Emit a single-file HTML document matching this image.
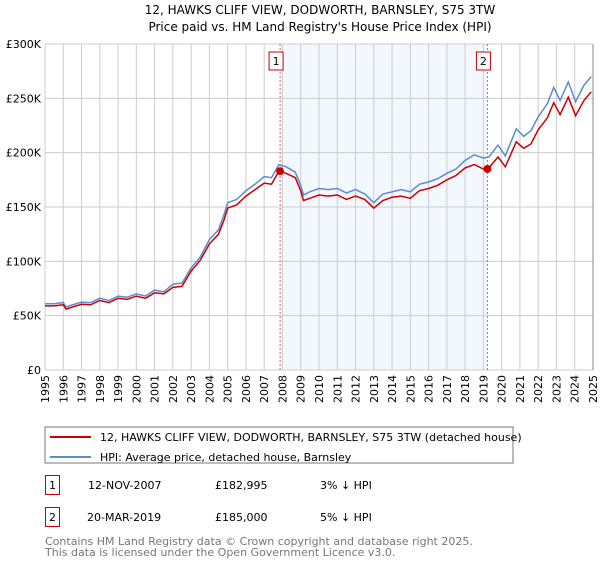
<!DOCTYPE html>
<html><head><meta charset="utf-8"><style>
body{margin:0;background:#fff;font-family:"DejaVu Sans","Liberation Sans",sans-serif;}
svg text{font-family:"DejaVu Sans","Liberation Sans",sans-serif;}
</style></head><body>
<svg width="600" height="560" viewBox="0 0 600 560">
<text x="320" y="14" text-anchor="middle" font-size="12">12, HAWKS CLIFF VIEW, DODWORTH, BARNSLEY, S75 3TW</text>
<text x="320" y="31" text-anchor="middle" font-size="12">Price paid vs. HM Land Registry's House Price Index (HPI)</text>
<g id="plot"></g>
<rect x="45" y="427" width="468" height="36" fill="#fff" stroke="#777"/>
<line x1="50" y1="437" x2="91" y2="437" stroke="#cc0000" stroke-width="2"/>
<text x="100" y="441" font-size="11">12, HAWKS CLIFF VIEW, DODWORTH, BARNSLEY, S75 3TW (detached house)</text>
<line x1="50" y1="457" x2="91" y2="457" stroke="#5b8bd0" stroke-width="2"/>
<text x="100" y="461" font-size="11">HPI: Average price, detached house, Barnsley</text>
<g font-size="11">
<rect x="45.5" y="475.5" width="14" height="19" fill="none" stroke="#cc0000"/>
<text x="52.5" y="489" text-anchor="middle">1</text>
<text x="88" y="489">12-NOV-2007</text>
<text x="215" y="489">£182,995</text>
<text x="320" y="489">3% ↓ HPI</text>
<rect x="45.5" y="507.5" width="14" height="19" fill="none" stroke="#cc0000"/>
<text x="52.5" y="521" text-anchor="middle">2</text>
<text x="87" y="521">20-MAR-2019</text>
<text x="215" y="521">£185,000</text>
<text x="320" y="521">5% ↓ HPI</text>
</g>
<text x="45" y="545" font-size="11" fill="#777">Contains HM Land Registry data © Crown copyright and database right 2025.</text>
<text x="45" y="556" font-size="11" fill="#777">This data is licensed under the Open Government Licence v3.0.</text>
</svg>
<script>
const hpiYears=[1995,1995.5,1996,1996.15,1996.5,1997,1997.5,1998,1998.5,1999,1999.5,2000,2000.5,2001,2001.5,2002,2002.5,2003,2003.5,2004,2004.5,2004.8,2005,2005.5,2006,2006.5,2007,2007.4,2007.8,2008.2,2008.7,2009,2009.15,2009.5,2010,2010.5,2011,2011.5,2012,2012.5,2013,2013.5,2014,2014.5,2015,2015.5,2016,2016.5,2017,2017.5,2018,2018.5,2019,2019.3,2019.8,2020.2,2020.8,2021.2,2021.6,2022,2022.5,2022.85,2023.2,2023.65,2024.05,2024.5,2024.9];
const hpiValues=[61,61,62,58,60,62.5,62,66,64,68,67,70,68,73.5,72,79,80,94,104,120,129,143,154,157,165,171,178,177,189,187,182,170,161,164,167,166,167,163,166,162,154,162,164,166,164,171,173,176,181,185,193,198,195,196,207,197,222,215,220,233,245,260,248,265,247,262,270];
const priceValues=[59,59,60,56,58,60.5,60,64,62,66,65,68,66,71,70,76,77,91,101,116,125,138,149,152,160,166,172,171,183,181,177,165,156,158,161,160,161,157,160,157,149,156,159,160,158,165,167,170,175,179,186,189,185,186,196,187,210,204,208,221,232,246,235,251,234,248,256];
const saleYears=[2007.87,2019.22];
const saleValues=[182.995,185.0];
const yTicks=[0,50,100,150,200,250,300];
const yTickLabels=["£0","£50K","£100K","£150K","£200K","£250K","£300K"];
const xTicks=[1995,1996,1997,1998,1999,2000,2001,2002,2003,2004,2005,2006,2007,2008,2009,2010,2011,2012,2013,2014,2015,2016,2017,2018,2019,2020,2021,2022,2023,2024,2025];
const X0=45,X1=593,Y0=370,Y1=44;
const xs=y=>X0+(y-1995)/30*(X1-X0);
const ys=v=>Y0-v/300*(Y0-Y1);
const NS="http://www.w3.org/2000/svg";
const g=document.getElementById('plot');
function mk(t,a){const e=document.createElementNS(NS,t);for(const k in a)e.setAttribute(k,a[k]);g.appendChild(e);return e;}
let e=mk('rect',{x:xs(saleYears[0]),y:Y1,width:xs(saleYears[1])-xs(saleYears[0]),height:Y0-Y1,fill:'#eef3fd',opacity:0.7});


xTicks.forEach(t=>{
 const l=mk('line',{x1:xs(t),x2:xs(t),y1:Y1,y2:Y0,stroke:'#ccc'});
 
 
 const tx=mk('text',{x:0,y:0,'font-size':11,'text-anchor':'end',transform:`translate(${xs(t)+4},${Y0+5}) rotate(-90)`});
 tx.textContent=t;
 
 
});
yTicks.forEach((t,i)=>{
 const l=mk('line',{x1:X0,x2:X1,y1:ys(t),y2:ys(t),stroke:'#ccc'});
 
 
 const tx=mk('text',{x:X0-4,y:ys(t)+4,'font-size':11,'text-anchor':'end'});
 tx.textContent=yTickLabels[i];
 
 
});
e=mk('line',{x1:X1,x2:X1,y1:Y1,y2:Y0,stroke:'#888'});


saleYears.forEach((s,i)=>{
 const l=mk('line',{x1:xs(s),x2:xs(s),y1:Y1,y2:Y0,stroke:'#e06060','stroke-dasharray':'2,2'});
 
 
 const r=mk('rect',{x:xs(s)-11,y:52,width:14,height:18,fill:'#fff',stroke:'#cc0000'});
 
 
 const t=mk('text',{x:xs(s)-4,y:65,'font-size':11,'text-anchor':'middle'});
 t.textContent=i+1;
 
 
});
function line(vals,col,name){
 const d=vals.map((v,i)=>(i?'L':'M')+xs(hpiYears[i]).toFixed(1)+','+ys(v).toFixed(1)).join('');
 const p=mk('path',{d:d,fill:'none',stroke:col,'stroke-width':1.5});
 
 
}
line(hpiValues,'#5b8bd0','hpi-line');
line(priceValues,'#cc0000','price-line');
saleYears.forEach((s,i)=>{
 const c=mk('circle',{cx:xs(s),cy:ys(saleValues[i]),r:4,fill:'#cc0000'});
 
 
});
</script>
</body></html>
